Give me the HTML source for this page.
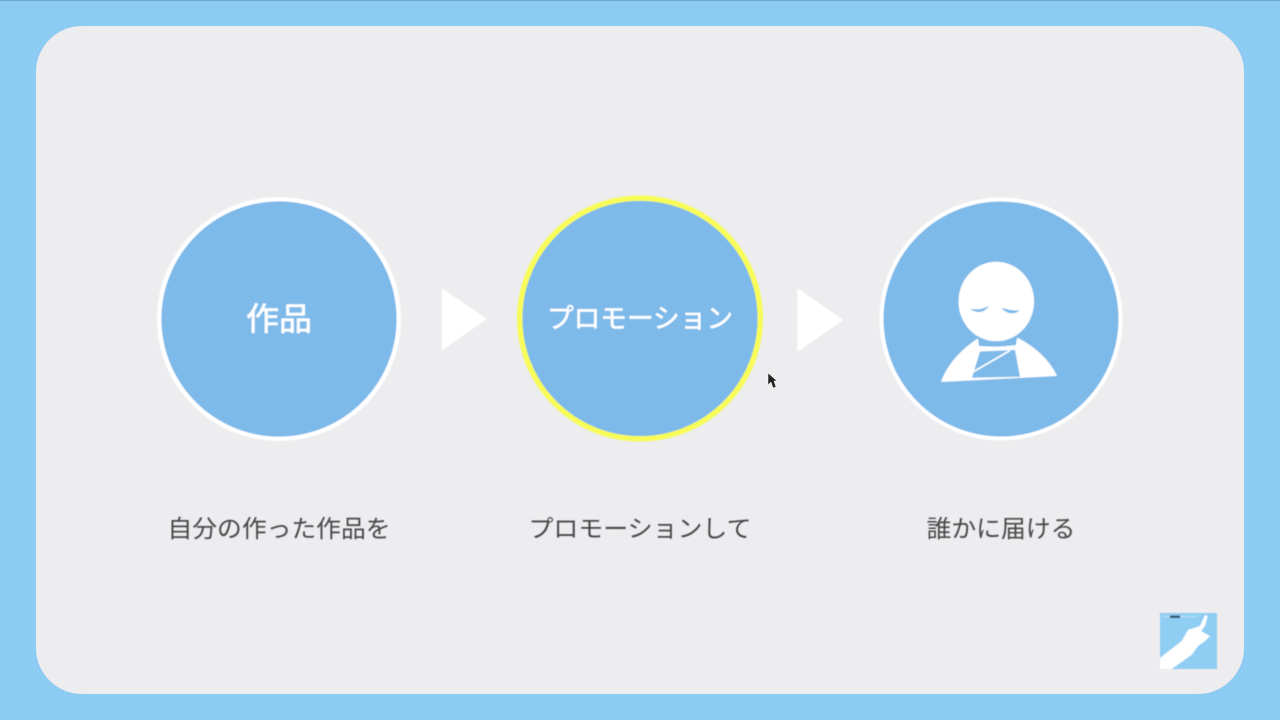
<!DOCTYPE html>
<html lang="ja">
<head>
<meta charset="utf-8">
<style>
html,body{margin:0;padding:0;width:1280px;height:720px;overflow:hidden;background:#8ccbf2;}
svg{display:block;position:absolute;left:0;top:0;}
text{font-family:"Liberation Sans","Noto Sans CJK JP",sans-serif;}
</style>
</head>
<body>
<svg width="1280" height="720" viewBox="0 0 1280 720" xmlns="http://www.w3.org/2000/svg">
<defs><filter id="soft" x="-5%" y="-5%" width="110%" height="110%"><feGaussianBlur stdDeviation="0.400"/></filter></defs>
<rect width="1280" height="720" fill="#8ccbf2"/>
<rect width="1280" height="1" fill="#6fa6c9"/>
<rect x="36" y="26" width="1208" height="668" rx="46" ry="46" fill="#edecee"/>

<g filter="url(#soft)">
<circle cx="279" cy="319" r="119.800" fill="#7db9e9" stroke="#ffffff" stroke-width="4.400"/>
<circle cx="640" cy="318.500" r="120.300" fill="#7db9e9" stroke="#f8fc58" stroke-width="5.400"/>
<circle cx="1001" cy="319" r="119.500" fill="#7db9e9" stroke="#ffffff" stroke-width="4"/>

<polygon points="441.700,288 487,319 441.700,350.500" fill="#ffffff"/>
<polygon points="797.300,288 843,320 797.300,352" fill="#ffffff"/>

<text x="279" y="330" font-size="32" font-weight="400" fill="#ffffff" stroke="#ffffff" stroke-width="0.600" text-anchor="middle" textLength="66" lengthAdjust="spacingAndGlyphs">作品</text>
<text x="640" y="328" font-size="27" fill="#ffffff" stroke="#ffffff" stroke-width="0.500" text-anchor="middle" textLength="186" lengthAdjust="spacingAndGlyphs">プロモーション</text>

<text x="279" y="537" font-size="24" fill="#47474a" text-anchor="middle" textLength="223" lengthAdjust="spacingAndGlyphs">自分の作った作品を</text>
<text x="640" y="537" font-size="24" fill="#47474a" text-anchor="middle" textLength="223" lengthAdjust="spacingAndGlyphs">プロモーションして</text>
<text x="1001" y="537" font-size="24" fill="#47474a" text-anchor="middle" textLength="149" lengthAdjust="spacingAndGlyphs">誰かに届ける</text>

<!-- person -->
<path d="M941,382 C947,364 962,349 977,339 L1018,338 C1034,346 1050,360 1057,376 Z" fill="#ffffff"/>
<path d="M977.500,334 L1017.500,334 L1016,345 Q1000,347.500 979,346 Z" fill="#7db9e9"/>
<path d="M980,351.500 L1015,350 L1020,376.700 L972,377.800 Z" fill="#7db9e9"/>
<path d="M973,372 L1010,350.500" fill="none" stroke="#ffffff" stroke-width="1.700"/>
<ellipse cx="996.300" cy="301.500" rx="37.800" ry="39.800" fill="#ffffff"/>
<path d="M971,309.300 Q980,311 988.300,306.700 Q981,315 971,309.300 Z" fill="#7db9e9" stroke="#7db9e9" stroke-width="0.800"/>
<path d="M1002.300,308.300 Q1011,311.500 1019,310.700 Q1010,316 1002.300,308.300 Z" fill="#7db9e9" stroke="#7db9e9" stroke-width="0.800"/>

<!-- logo -->
<rect x="1160" y="613" width="57" height="56" fill="#8fcdf3"/>
<rect x="1162" y="615.500" width="36" height="2" fill="#a9d8f5"/>
<rect x="1170" y="615.500" width="10" height="2.500" fill="#33566f"/>
<path d="M1160,658 L1181.700,641 L1188,630 L1200,626 L1205,615 L1207.700,616 L1205,626 L1201,631 L1210,636 L1205,641 L1198,646 L1191.700,654.700 L1171.700,669 L1160,669 Z" fill="#ffffff"/>
</g>

<!-- cursor -->
<path d="M768,373 L768,385 L771,382 L773,388 L776,387 L774,381 L777,381 Z" fill="#222222" stroke="#ffffff" stroke-width="0.500"/>
</svg>
</body>
</html>
